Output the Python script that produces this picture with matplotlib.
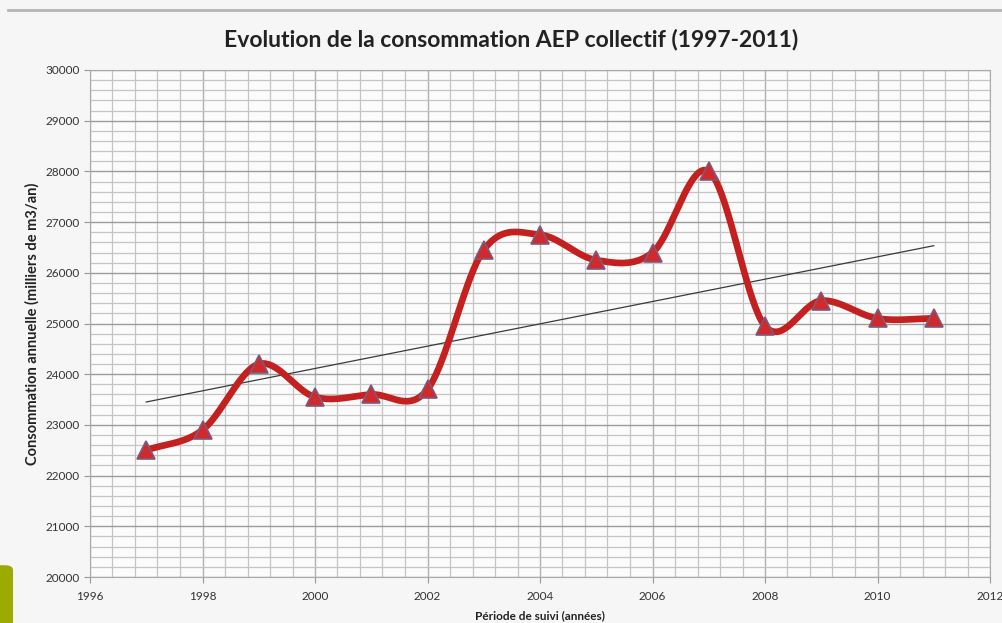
import numpy as np
import matplotlib
matplotlib.use('Agg')
from matplotlib import pyplot as plt
from matplotlib.ticker import MultipleLocator
from matplotlib.patches import FancyBboxPatch
from matplotlib.lines import Line2D

years = [1997, 1998, 1999, 2000, 2001, 2002, 2003, 2004, 2005, 2006, 2007, 2008, 2009, 2010, 2011]
conso = [22500, 22900, 24200, 23550, 23600, 23700, 26450, 26750, 26250, 26400, 28000, 24950, 25450, 25100, 25100]

title = 'Evolution de la consommation AEP collectif (1997-2011)'
xlabel = 'Période de suivi (années)'
ylabel = 'Consommation annuelle (milliers de m3/an)'


def smooth(x, y, n=40):
    # courbe lissée façon Excel (Catmull-Rom)
    x = np.asarray(x, float)
    y = np.asarray(y, float)
    px = np.concatenate([[2 * x[0] - x[1]], x, [2 * x[-1] - x[-2]]])
    py = np.concatenate([[2 * y[0] - y[1]], y, [2 * y[-1] - y[-2]]])
    xs, ys = [], []
    t = np.linspace(0, 1, n)
    for i in range(1, len(px) - 2):
        for p, out in ((px, xs), (py, ys)):
            p0, p1, p2, p3 = p[i - 1], p[i], p[i + 1], p[i + 2]
            out.extend(0.5 * ((2 * p1) + (-p0 + p2) * t
                              + (2 * p0 - 5 * p1 + 4 * p2 - p3) * t ** 2
                              + (-p0 + 3 * p1 - 3 * p2 + p3) * t ** 3))
    return np.array(xs), np.array(ys)


plt.rcParams['font.family'] = ['Lato', 'DejaVu Sans']

fig = plt.figure(figsize=(10.03, 6.23), dpi=100, facecolor='#f6f6f6')
ax = fig.add_axes([90 / 1003, 46 / 623, 900 / 1003, 507 / 623])
ax.set_facecolor('#fbfbfb')

# décor de la diapo
fig.add_artist(Line2D([8 / 1003, 1], [1 - 10 / 623, 1 - 10 / 623], transform=fig.transFigure,
                      color='#b5b5b5', lw=2))
fig.add_artist(FancyBboxPatch((-0.01, -0.01), 0.023, 64 / 623, boxstyle='round,pad=0,rounding_size=0.008',
                              transform=fig.transFigure, color='#9cab00', lw=0))

sx, sy = smooth(years, conso)
ax.plot(sx, sy, color='#c4201f', lw=4.8, solid_capstyle='round', zorder=3)
ax.plot(years, conso, ls='none', marker='^', ms=13, mfc='#d12a2c', mec='#7c5a7c', mew=1.2, zorder=4)

coef = np.polyfit(years, conso, 1)
ax.plot([years[0], years[-1]], np.polyval(coef, [years[0], years[-1]]), color='#3a3a3a', lw=0.9, zorder=2)

ax.set_xlim(1996, 2012)
ax.set_ylim(20000, 30000)
ax.xaxis.set_major_locator(MultipleLocator(2))
ax.xaxis.set_minor_locator(MultipleLocator(0.4))
ax.yaxis.set_major_locator(MultipleLocator(1000))
ax.yaxis.set_minor_locator(MultipleLocator(200))
ax.grid(which='major', axis='y', color='#9c9c9c', lw=1.0)
ax.grid(which='major', axis='x', color='#b0b0b0', lw=1.0)
ax.grid(which='minor', color='#c4c4c4', lw=0.9)
ax.set_axisbelow(True)
ax.tick_params(which='minor', length=0)
ax.tick_params(which='major', length=4, color='#999999', labelsize=8.5, labelcolor='#333333')
ax.tick_params(axis='x', pad=6)
for s in ax.spines.values():
    s.set_color('#aaaaaa')

fig.text(511 / 1003, 1 - 40 / 623, title, fontsize=16.5, fontweight='bold', color='#222222',
         ha='center', va='center')
ax.set_xlabel(xlabel, fontsize=8.5, fontweight='bold', color='#222222', labelpad=6)
ax.set_ylabel(ylabel, fontsize=10.5, fontweight='bold', color='#222222', labelpad=4)

plt.savefig('out.png', dpi=100, facecolor=fig.get_facecolor())
